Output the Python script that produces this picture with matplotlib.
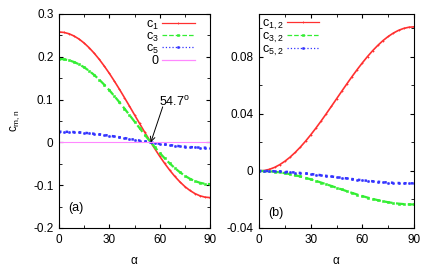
import numpy as np
import matplotlib
matplotlib.use("Agg")
import matplotlib.pyplot as plt
from matplotlib.ticker import MultipleLocator

plt.rcParams['font.family'] = ['Liberation Sans', 'DejaVu Sans']
plt.rcParams['mathtext.fontset'] = 'custom'
plt.rcParams['mathtext.rm'] = 'Liberation Sans'
plt.rcParams['mathtext.it'] = 'Liberation Sans'
plt.rcParams['font.size'] = 8.5

alpha = np.arange(0, 91, 3)

c1 = [0.258, 0.2569, 0.2538, 0.2485, 0.2413, 0.2321, 0.2210, 0.2083, 0.1940, 0.1782,
      0.1613, 0.1432, 0.1243, 0.1047, 0.0847, 0.0645, 0.0443, 0.0243, 0.0047, -0.0142,
      -0.0323, -0.0492, -0.0650, -0.0793, -0.0920, -0.1031, -0.1123, -0.1195, -0.1248,
      -0.1279, -0.129]
c3 = [0.195, 0.1942, 0.1918, 0.1878, 0.1824, 0.1754, 0.1671, 0.1574, 0.1466, 0.1347,
      0.1219, 0.1082, 0.0939, 0.0792, 0.0640, 0.0488, 0.0335, 0.0183, 0.0036, -0.0107,
      -0.0244, -0.0372, -0.0491, -0.0599, -0.0696, -0.0779, -0.0849, -0.0903, -0.0943,
      -0.0967, -0.0975]
c5 = [0.0250, 0.0249, 0.0246, 0.0241, 0.0234, 0.0225, 0.0214, 0.0202, 0.0188, 0.0173,
      0.0156, 0.0139, 0.0120, 0.0101, 0.0082, 0.0063, 0.0043, 0.0024, 0.0005, -0.0014,
      -0.0031, -0.0048, -0.0063, -0.0077, -0.0089, -0.0100, -0.0109, -0.0116, -0.0121,
      -0.0124, -0.0125]
zero_x = [0, 90]
zero_y = [0, 0]

c12 = [0, 0.00028, 0.00110, 0.00247, 0.00437, 0.00677, 0.00964, 0.01297, 0.01671, 0.02082,
       0.02525, 0.02996, 0.03489, 0.04000, 0.04522, 0.05050, 0.05578, 0.06100, 0.06611,
       0.07104, 0.07575, 0.08018, 0.08429, 0.08803, 0.09136, 0.09423, 0.09663, 0.09853,
       0.09990, 0.10072, 0.101]
c32 = [0, -0.00006, -0.00026, -0.00058, -0.00102, -0.00157, -0.00224, -0.00302, -0.00389,
       -0.00484, -0.00588, -0.00697, -0.00812, -0.00931, -0.01052, -0.01175, -0.01298,
       -0.01419, -0.01538, -0.01653, -0.01763, -0.01866, -0.01961, -0.02048, -0.02126,
       -0.02193, -0.02248, -0.02292, -0.02324, -0.02344, -0.0235]
c52 = [0, -0.00002, -0.00010, -0.00021, -0.00038, -0.00058, -0.00083, -0.00112, -0.00144,
       -0.00179, -0.00218, -0.00258, -0.00301, -0.00345, -0.00390, -0.00435, -0.00480,
       -0.00525, -0.00569, -0.00612, -0.00653, -0.00691, -0.00726, -0.00758, -0.00787,
       -0.00812, -0.00832, -0.00849, -0.00860, -0.00868, -0.0087]

RED = '#ff3030'
GREEN = '#33ee33'
BLUE = '#3333ff'
MAG = '#ff88ff'

fig = plt.figure(figsize=(4.36, 2.67), dpi=100)
axL = fig.add_axes([59/436, 1-228/267, 151/436, 214/267])
axR = fig.add_axes([259/436, 1-228/267, 155/436, 214/267])

def style(ax):
    ax.tick_params(direction='in', top=True, right=True, which='both', length=3, pad=4)
    ax.tick_params(which='minor', length=2)
    for s in ax.spines.values():
        s.set_linewidth(0.8)
    ax.xaxis.set_major_locator(MultipleLocator(30))
    ax.xaxis.set_minor_locator(MultipleLocator(15))
    ax.set_xlim(0, 90)
    ax.set_xlabel(r'$\alpha$', labelpad=7)

kr = dict(lw=1.2, ms=1.8, mew=0.6)
kg = dict(lw=1.6, ms=1.6, mew=0.4)
kb = dict(lw=1.8, ms=1.6, mew=0.4)
axL.plot(alpha, c1, color=RED, ls='-', marker='+', label=r'$\mathrm{c}_1$', **kr)
axL.plot(alpha, c3, color=GREEN, ls='--', marker='s', label=r'$\mathrm{c}_3$', **kg)
axL.plot(alpha, c5, color=BLUE, ls=':', marker='o', label=r'$\mathrm{c}_5$', **kb)
axL.plot(zero_x, zero_y, color=MAG, ls='-', lw=0.8, label='0')
style(axL)
axL.set_ylim(-0.2, 0.3)
axL.yaxis.set_major_locator(MultipleLocator(0.1))
axL.yaxis.set_minor_locator(MultipleLocator(0.05))
axL.yaxis.set_major_formatter(plt.FuncFormatter(lambda v, p: '0' if abs(v) < 1e-9 else ('%.1f' % v)))
axL.set_ylabel(r'$\mathrm{c}_{\mathrm{m,n}}$', labelpad=8)
legL = axL.legend(loc='upper right', bbox_to_anchor=(0.915, 0.99), markerfirst=False,
                  frameon=False, handlelength=2.6, labelspacing=-0.08, borderaxespad=0.0,
                  borderpad=0.2, handletextpad=0.3, fontsize=9)
for h in legL.legend_handles:
    h.set_linewidth(0.9)
axL.annotate('', xy=(54.7, 0), xytext=(61.8, 0.083),
             arrowprops=dict(arrowstyle='->', color='k', lw=0.7, shrinkA=0, shrinkB=0))
axL.text(59.6, 0.095, r'54.7$^{\mathrm{o}}$', ha='left', va='center', fontsize=9)
axL.text(5.4, -0.154, '(a)', ha='left', va='center', fontsize=9)

axR.plot(alpha, c12, color=RED, ls='-', marker='+', label=r'$\mathrm{c}_{1,2}$', **kr)
axR.plot(alpha, c32, color=GREEN, ls='--', marker='s', label=r'$\mathrm{c}_{3,2}$', **kg)
axR.plot(alpha, c52, color=BLUE, ls=':', marker='o', label=r'$\mathrm{c}_{5,2}$', **kb)
style(axR)
axR.set_ylim(-0.04, 0.11)
axR.yaxis.set_major_locator(MultipleLocator(0.04))
axR.yaxis.set_minor_locator(MultipleLocator(0.02))
axR.yaxis.set_major_formatter(plt.FuncFormatter(lambda v, p: '0' if abs(v) < 1e-9 else ('%.2f' % v)))
legR = axR.legend(loc='upper left', bbox_to_anchor=(0.0, 0.995), markerfirst=False,
                  frameon=False, handlelength=2.6, labelspacing=-0.1, borderaxespad=0.0,
                  borderpad=0.2, handletextpad=0.3, fontsize=9)
for h in legR.legend_handles:
    h.set_linewidth(0.9)
axR.text(5.2, -0.0295, '(b)', ha='left', va='center', fontsize=9)

fig.savefig('out.png', dpi=100)
